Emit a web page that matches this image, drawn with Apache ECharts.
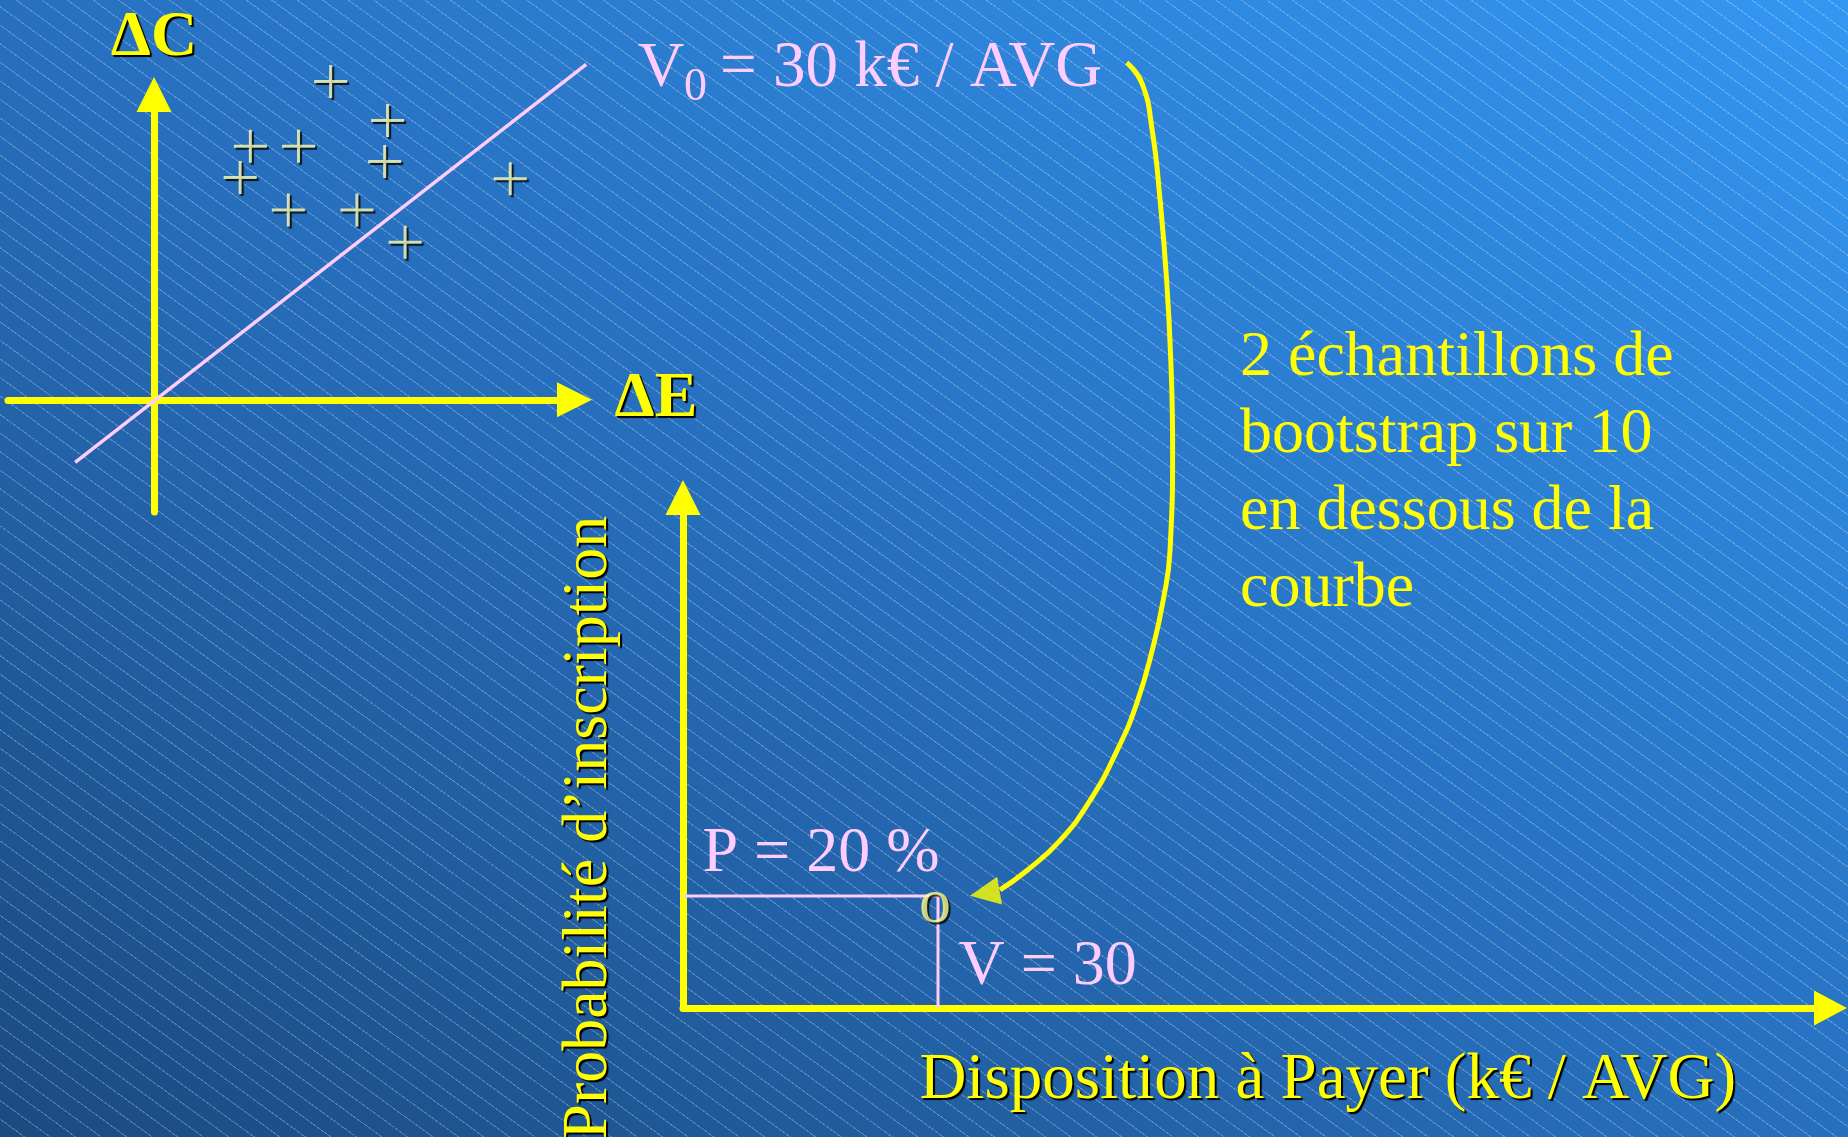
<!DOCTYPE html>
<html lang="fr">
<head>
<meta charset="utf-8">
<title>Bootstrap et courbe d'acceptabilité</title>
<script src="https://cdn.jsdelivr.net/npm/echarts@6/dist/echarts.min.js"></script>
<style>
  html, body { margin: 0; padding: 0; }
  body {
    width: 1848px;
    height: 1137px;
    overflow: hidden;
    background:
      repeating-linear-gradient(36deg, rgba(255,255,255,0) 0 14px, rgba(255,255,255,0.25) 14px 15px),
      linear-gradient(to top right, #1b4a80 0%, #2770bf 50%, #3397f2 100%);
  }
  #chart { width: 1848px; height: 1137px; }
</style>
</head>
<body>
<div id="chart"></div>
<script>
// plan ΔE / ΔC : réplications bootstrap (+) et droite du seuil V0
const bootstrapPoints = [
  [1.21, 2.95], [1.60, 2.59], [0.66, 2.35], [0.99, 2.35], [1.58, 2.21],
  [0.59, 2.06], [2.44, 2.05], [0.92, 1.76], [1.39, 1.76], [1.72, 1.46]
]
const thresholdLine = [[-0.54, -0.58], [2.96, 3.11]]

// courbe d'acceptabilité : V = 30 k€, P = 20 %
const wtpGuide = [[0, 20], [30, 20], [30, 0]]
const wtpLabels = ['P = 20 %', '', 'V = 30']
const v0Point = [[30, 20]]

// flèche qui relie V0 au point de la courbe (en unités k€ / %)
const arrowCurve = [
  [52.2, 168.9], [54.0, 165.2], [55.2, 156.8], [56.1, 144.8], [56.9, 130.0],
  [57.4, 115.2], [57.6, 100.2], [57.3, 81.8], [56.5, 72.9], [55.3, 64.5],
  [53.4, 54.5], [51.1, 46.1], [47.9, 37.1], [44.4, 30.0], [40.5, 24.6], [37.3, 21.1]
]
const arrowHead = [[35.5, 20.5]]

const YELLOW = '#ffff00'
const PINK = '#ffccff'
const CROSS = '#ffffb8'
const SERIF = '"Liberation Serif", "Times New Roman", serif'
const shadow = { textShadowColor: '#000', textShadowOffsetX: 2, textShadowOffsetY: 2, textShadowBlur: 1 }

// échelle du plan ΔE / ΔC : 146 px par unité en x
const PLANE_PX = 146

const chart = echarts.init(document.getElementById('chart'), null, { renderer: 'canvas' })

function arrowAxis(arrowLen) {
  return {
    show: true,
    onZero: true,
    symbol: ['none', 'triangle'],
    symbolSize: [35, arrowLen],
    lineStyle: { color: YELLOW, width: 7 }
  }
}

const bare = {
  axisTick: { show: false },
  axisLabel: { show: false },
  splitLine: { show: false }
}

const bigText = {
  fontFamily: SERIF,
  fontSize: 64,
  color: YELLOW,
  ...shadow
}

const option = {
  animation: false,
  grid: [
    { left: 8, top: 94.5, width: 566.5, height: 417.5, outerBoundsMode: 'none' },
    { left: 683, top: 497.5, width: 1147.5, height: 510.5, outerBoundsMode: 'none' },
    // même plan, élargi, pour que la droite du seuil dépasse la flèche ΔE
    { left: 8, top: 94.5, width: 640, height: 417.5, outerBoundsMode: 'none' }
  ],
  xAxis: [
    {
      gridIndex: 0, type: 'value', min: -1, max: -1 + 566.5 / PLANE_PX, ...bare,
      axisLine: arrowAxis(35),
      name: 'ΔE', nameLocation: 'end', nameGap: 40,
      nameTextStyle: { ...bigText, fontWeight: 'bold', padding: [16, 0, 0, 0] }
    },
    {
      gridIndex: 1, type: 'value', min: 0, max: 135, ...bare,
      axisLine: arrowAxis(33),
      name: 'Disposition à Payer (k€ / AVG)', nameLocation: 'middle', nameGap: 40,
      nameTextStyle: { ...bigText, fontSize: 65, padding: [0, 0, 0, 142] }
    },
    {
      gridIndex: 2, type: 'value', min: -1, max: -1 + 640 / PLANE_PX, show: false
    }
  ],
  yAxis: [
    {
      gridIndex: 0, type: 'value', min: -1.04, max: 2.83, ...bare,
      axisLine: arrowAxis(35),
      name: 'ΔC', nameLocation: 'end', nameGap: 24,
      nameTextStyle: { ...bigText, fontWeight: 'bold' }
    },
    {
      gridIndex: 1, type: 'value', min: 0, max: 91.2, ...bare,
      axisLine: arrowAxis(35),
      name: 'Probabilité d’inscription', nameLocation: 'middle', nameGap: 62,
      nameTextStyle: { ...bigText, padding: [0, 150, 0, 0] }
    },
    {
      gridIndex: 2, type: 'value', min: -1.04, max: 2.83, show: false
    }
  ],
  series: [
    {
      name: 'seuil V0',
      type: 'line',
      xAxisIndex: 2, yAxisIndex: 2,
      data: thresholdLine,
      symbol: 'none',
      clip: false,
      lineStyle: { color: PINK, width: 3.5 },
      z: 3
    },
    {
      name: 'bootstrap',
      type: 'scatter',
      xAxisIndex: 0, yAxisIndex: 0,
      data: bootstrapPoints,
      symbol: 'path://M0,15h33v3h-33z M15,0h3v33h-3z',
      symbolSize: 33,
      clip: false,
      itemStyle: {
        color: CROSS,
        shadowColor: '#000', shadowOffsetX: 2, shadowOffsetY: 2, shadowBlur: 1
      },
      z: 4
    },
    {
      name: 'repères',
      type: 'line',
      xAxisIndex: 1, yAxisIndex: 1,
      data: wtpGuide.map((p, i) => ({
        value: p,
        label: {
          show: wtpLabels[i] !== '',
          formatter: wtpLabels[i],
          position: i === 0 ? [20, -9] : [21, -8],
          align: 'left',
          verticalAlign: 'bottom',
          fontFamily: SERIF,
          fontSize: 64,
          color: PINK
        }
      })),
      symbol: 'circle',
      symbolSize: 1,
      showSymbol: true,
      itemStyle: { color: 'rgba(0,0,0,0)' },
      lineStyle: { color: PINK, width: 3 },
      z: 3
    },
    {
      name: 'V0',
      type: 'scatter',
      xAxisIndex: 1, yAxisIndex: 1,
      data: v0Point,
      symbol: 'circle',
      symbolSize: 1,
      itemStyle: { color: 'rgba(0,0,0,0)' },
      label: {
        show: true,
        formatter: 'o',
        position: 'inside',
        offset: [-3, 9],
        ...bigText,
        color: '#ffff90'
      },
      z: 5
    },
    {
      name: 'flèche',
      type: 'line',
      xAxisIndex: 1, yAxisIndex: 1,
      data: arrowCurve,
      smooth: 0.5,
      symbol: 'none',
      clip: false,
      lineStyle: { color: YELLOW, width: 5 },
      z: 4
    },
    {
      name: 'pointe',
      type: 'scatter',
      xAxisIndex: 1, yAxisIndex: 1,
      data: arrowHead,
      symbol: 'triangle',
      symbolSize: [28, 30],
      symbolRotate: 100,
      clip: false,
      itemStyle: { color: YELLOW },
      z: 4
    }
  ],
  graphic: [
    {
      type: 'text', left: 638, top: 37,
      style: { text: 'V', fontFamily: SERIF, fontSize: 64, fill: PINK }
    },
    {
      type: 'text', left: 684, top: 65,
      style: { text: '0', fontFamily: SERIF, fontSize: 46, fill: PINK }
    },
    {
      type: 'text', left: 720, top: 36,
      style: { text: '= 30 k€ / AVG', fontFamily: SERIF, fontSize: 65, fill: PINK }
    },
    {
      type: 'text',
      left: 1240,
      top: 320,
      style: {
        text: '2 échantillons de\nbootstrap sur 10\nen dessous de la\ncourbe',
        fontFamily: SERIF,
        fontSize: 64,
        lineHeight: 77,
        fill: YELLOW
      }
    }
  ]
}

chart.setOption(option)
window.addEventListener('resize', () => chart.resize())
</script>
</body>
</html>
